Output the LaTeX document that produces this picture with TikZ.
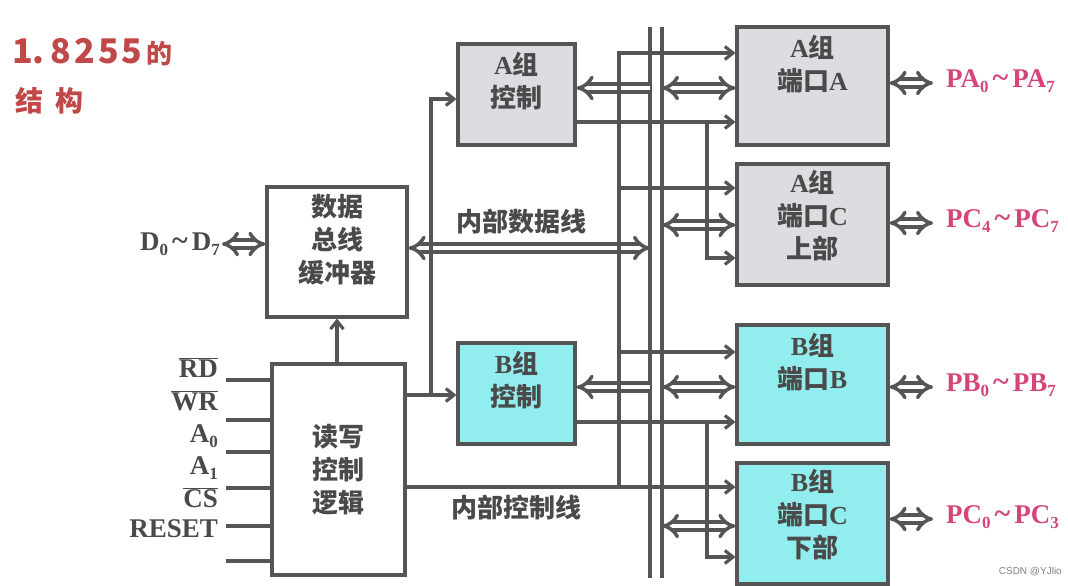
\documentclass[tikz,border=0pt]{standalone}
\usepackage{fontspec}
\setmainfont{Liberation Serif}
\newfontfamily\cjk{Noto Sans CJK SC}
\newfontfamily\titlefont{Noto Sans CJK SC}
\newfontfamily\wmfont{Liberation Sans}
\usetikzlibrary{arrows.meta}
\definecolor{lc}{HTML}{555555}
\definecolor{tc}{HTML}{4A4A4A}
\definecolor{grayfill}{HTML}{DCDDE0}
\definecolor{cyanfill}{HTML}{92EEEE}
\definecolor{pinktext}{HTML}{D6457A}
\definecolor{titlered}{HTML}{C04848}
\newcommand\zh[1]{{\cjk #1}}
\newcommand\mysub[1]{\raisebox{-0.4ex}{\fontsize{17}{17}\selectfont #1}}
\newcommand\ovl[1]{$\overline{\mbox{#1}}$}
\newcommand\tl{\hspace{4pt}{\fontsize{30}{30}\selectfont\textasciitilde}\hspace{4pt}}
\tikzset{
  box/.style={draw=lc, line width=3.2pt, inner sep=0pt},
  txt/.style={text=tc, font=\bfseries\fontsize{26}{33}\selectfont, align=center, inner sep=0pt},
  ptxt/.style={text=pinktext, font=\bfseries\fontsize{27}{27}\selectfont, inner sep=0pt, anchor=mid west},
  ltxt/.style={text=tc, font=\bfseries\fontsize{27}{27}\selectfont, inner sep=0pt, anchor=mid east},
  ln/.style={draw=lc, line width=3.2pt},
  arr/.style={ln, -{Straight Barb[length=8pt,width=13pt]}},
  dblbase/.style={draw=lc, line width=3.5pt, double=white, double distance=4.5pt},
  dbl/.style={dblbase, {Implies[scale=1.5]}-{Implies[scale=1.5]}},
  dblL/.style={dblbase, -{Implies[scale=1.5]}},
}
\begin{document}
\begin{tikzpicture}[x=1pt,y=-1pt]
\useasboundingbox (0,0) rectangle (1068,586);
\fill[white] (0,0) rectangle (1068,586);

% title
\node[anchor=west, text=titlered, font=\titlefont\bfseries, inner sep=0pt] (title1) at (12,52)
  {{\fontsize{34}{34}\selectfont 1.\hspace{6pt}8\hspace{3pt}2\hspace{3pt}5\hspace{3pt}5}\hspace{4pt}{\fontsize{26}{26}\selectfont 的}};
\node[anchor=west, text=titlered, font=\titlefont\bfseries\fontsize{28}{28}\selectfont, inner sep=0pt] (title2) at (15,101)
  {结\hspace{12pt}构};

% boxes
\node[box, minimum width=140pt, minimum height=130pt] (buf) at (337,252) {};
\node[box, minimum width=133pt, minimum height=211pt] (rw) at (338.5,469.5) {};
\node[box, fill=grayfill, minimum width=117pt, minimum height=101pt] (ac) at (516.5,94.5) {};
\node[box, fill=cyanfill, minimum width=117pt, minimum height=101pt] (bc) at (516.5,393.5) {};
\node[box, fill=grayfill, minimum width=151pt, minimum height=118pt] (pa) at (812.5,86) {};
\node[box, fill=grayfill, minimum width=151pt, minimum height=121pt] (pcu) at (812.5,224.5) {};
\node[box, fill=cyanfill, minimum width=151pt, minimum height=119pt] (pb) at (812.5,384.5) {};
\node[box, fill=cyanfill, minimum width=151pt, minimum height=121pt] (pcl) at (812.5,523.5) {};

% box texts
\node[txt] (buft) at (337,240) {\zh{数据}\\\zh{总线}\\\zh{缓冲器}};
\node[txt] (rwt) at (338.5,470) {\zh{读写}\\\zh{控制}\\\zh{逻辑}};
\node[txt] (act) at (516.5,81) {A\zh{组}\\\zh{控制}};
\node[txt] (bct) at (516.5,380) {B\zh{组}\\\zh{控制}};
\node[txt] (pat) at (812.5,64) {A\zh{组}\\\zh{端口}A};
\node[txt] (pcut) at (812.5,216) {A\zh{组}\\\zh{端口}C\\\zh{上部}};
\node[txt] (pbt) at (812.5,362) {B\zh{组}\\\zh{端口}B};
\node[txt] (pclt) at (812.5,515) {B\zh{组}\\\zh{端口}C\\\zh{下部}};

% labels
\node[txt] (idl) at (521,222) {\zh{内部数据线}};
\node[txt] (icl) at (516,508) {\zh{内部控制线}};
\node[ltxt] (d) at (220,248) {D\mysub{0}\tl D\mysub{7}};
\node[ltxt] (lrd) at (218,375) {\ovl{RD}};
\node[ltxt] (lwr) at (218,408) {\ovl{WR}};
\node[ltxt] (la0) at (218,440) {A\mysub{0}};
\node[ltxt] (la1) at (218,472) {A\mysub{1}};
\node[ltxt] (lcs) at (218,505) {\ovl{CS}};
\node[ltxt] (lrs) at (218,535) {RESET};

\node[ptxt] (lpa) at (946,85) {PA\mysub{0}\tl PA\mysub{7}};
\node[ptxt] (lpcu) at (946,225) {PC\mysub{4}\tl PC\mysub{7}};
\node[ptxt] (lpb) at (946,389) {PB\mysub{0}\tl PB\mysub{7}};
\node[ptxt] (lpcl) at (946,521) {PC\mysub{0}\tl PC\mysub{3}};

\node[anchor=east, text=gray, font=\wmfont\fontsize{10}{10}\selectfont, inner sep=0pt] (wm) at (1062,572) {CSDN @YJlio};

% bus
\coordinate (b1t) at (650,27); \coordinate (b1b) at (650,578);
\coordinate (b2t) at (662,27); \coordinate (b2b) at (662,578);
\draw[ln] (b1t) -- (b1b);
\draw[ln] (b2t) -- (b2b);

% left inputs
\foreach \y [count=\i] in {380,420,452,488,526,561} {
  \coordinate (in\i) at (226,\y);
  \draw[ln] (in\i) -- (rw.west |- in\i);
}

% data bus
\draw[dbl] ([xshift=2pt]d.east) -- (buf.west |- d.east);
\coordinate (idr) at (650,248);
\draw[dbl] (buf.east |- idr) -- (idr);
\draw[arr] (rw.north -| buf.south) -- (buf.south);

% rw -> group controls
\coordinate (rb) at (431,395);
\coordinate (rt) at (431,99);
\draw[arr] (rw.east |- rb) -- (bc.west |- rb);
\draw[arr] (rb) -- (rt) -- (ac.west |- rt);

% group controls <- bus
\coordinate (acb) at (650,88);
\draw[dblL] (acb) -- (ac.east |- acb);
\coordinate (bcb) at (650,387);
\draw[dblL] (bcb) -- (bc.east |- bcb);

% bus <-> ports
\coordinate (pab) at (662,88);
\draw[dbl] (pab) -- (pa.west |- pab);
\coordinate (pcub) at (662,225);
\draw[dbl] (pcub) -- (pcu.west |- pcub);
\coordinate (pbb) at (662,387);
\draw[dbl] (pbb) -- (pb.west |- pbb);
\coordinate (pclb) at (662,526);
\draw[dbl] (pclb) -- (pcl.west |- pclb);

% group control outputs
\coordinate (ao) at (707,122);
\coordinate (ao2) at (707,258);
\draw[arr] (ac.east |- ao) -- (pa.west |- ao);
\draw[arr] (ao) -- (ao2) -- (pcu.west |- ao2);
\coordinate (bo) at (707,422);
\coordinate (bo2) at (707,557);
\draw[arr] (bc.east |- bo) -- (pb.west |- bo);
\draw[arr] (bo) -- (bo2) -- (pcl.west |- bo2);

% internal control line
\coordinate (cb) at (619,487);
\coordinate (ct) at (619,53);
\coordinate (cu) at (619,188);
\coordinate (cm) at (619,352);
\draw[arr] (rw.east |- cb) -- (pcl.west |- cb);
\draw[arr] (cb) -- (ct) -- (pa.west |- ct);
\draw[arr] (cu) -- (pcu.west |- cu);
\draw[arr] (cm) -- (pb.west |- cm);

% port outputs
\coordinate (pae) at (933,83);
\draw[dbl] (pa.east |- pae) -- (pae);
\coordinate (pcue) at (933,223);
\draw[dbl] (pcu.east |- pcue) -- (pcue);
\coordinate (pbe) at (933,387);
\draw[dbl] (pb.east |- pbe) -- (pbe);
\coordinate (pcle) at (933,519);
\draw[dbl] (pcl.east |- pcle) -- (pcle);
\end{tikzpicture}
\end{document}
